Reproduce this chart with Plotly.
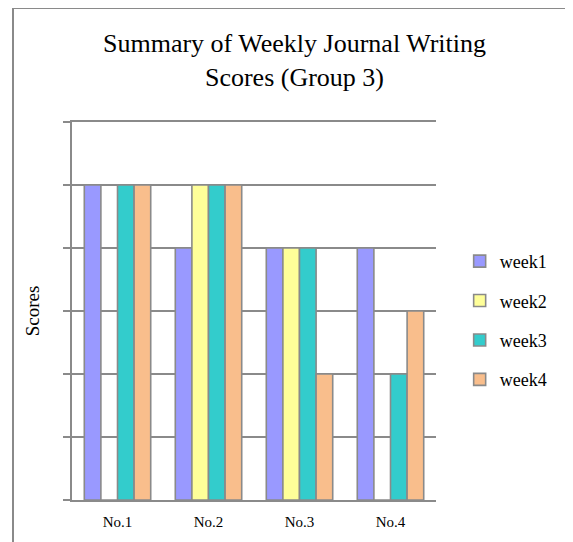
import plotly.graph_objects as go

categories = ["No.1", "No.2", "No.3", "No.4"]
week1 = [5, 4, 4, 4]
week2 = [0, 5, 4, 0]
week3 = [5, 5, 4, 2]
week4 = [5, 5, 2, 3]
series_names = ["week1", "week2", "week3", "week4"]
series_colors = ["#9999FF", "#FFFF99", "#33CCCC", "#F9BE8C"]
y_ticks = [0, 1, 2, 3, 4, 5, 6]

SERIF = "Liberation Serif, Times New Roman, serif"
GRAY = "#8a8a8a"

fig = go.Figure()
for name, vals, col in zip(series_names, [week1, week2, week3, week4], series_colors):
    fig.add_trace(go.Bar(
        x=categories, y=vals, name=name, legendgroup=name,
        marker=dict(color=col, line=dict(color=GRAY, width=1.6)),
    ))

fig.update_layout(
    width=573, height=542,
    margin=dict(l=64, r=145, t=114, b=50),
    paper_bgcolor="white", plot_bgcolor="white",
    barmode="group", bargap=0.27, bargroupgap=0,
    title=dict(
        text="Summary of Weekly Journal Writing<br>Scores (Group 3)",
        font=dict(family=SERIF, size=26, color="black"),
        x=0.5, xanchor="center", y=0.918, yanchor="top",
    ),
    legend=dict(
        x=1.065, xanchor="left", y=0.68, yanchor="top",
        font=dict(family=SERIF, size=18, color="black"),
        tracegroupgap=13, bgcolor="rgba(0,0,0,0)",
    ),
    font=dict(family=SERIF, color="black"),
    showlegend=True,
)
fig.update_xaxes(
    showgrid=False, showline=True, mirror=True, linecolor=GRAY, linewidth=2,
    ticks="", zeroline=False,
    ticklabelstandoff=7,
    tickfont=dict(family=SERIF, size=15, color="black"),
)
fig.update_yaxes(
    range=[0, 6], tickvals=y_ticks, showticklabels=False,
    showgrid=True, gridcolor=GRAY, gridwidth=2,
    showline=True, linecolor=GRAY, linewidth=2,
    ticks="outside", ticklen=7, tickcolor=GRAY, tickwidth=2,
    zeroline=False,
    title=dict(text="Scores", font=dict(family=SERIF, size=19, color="black"), standoff=18),
)

# outer frame (only top and left edges are visible in the crop)
px0 = -59 / 364.0
py_top = 1 + 114 / 378.0
fig.add_shape(type="line", xref="paper", yref="paper", x0=px0, x1=px0, y0=py_top, y1=-0.3,
              line=dict(color=GRAY, width=2))
fig.add_shape(type="line", xref="paper", yref="paper", x0=px0, x1=1.6, y0=py_top, y1=py_top,
              line=dict(color=GRAY, width=2))

fig.write_html("out.html")
